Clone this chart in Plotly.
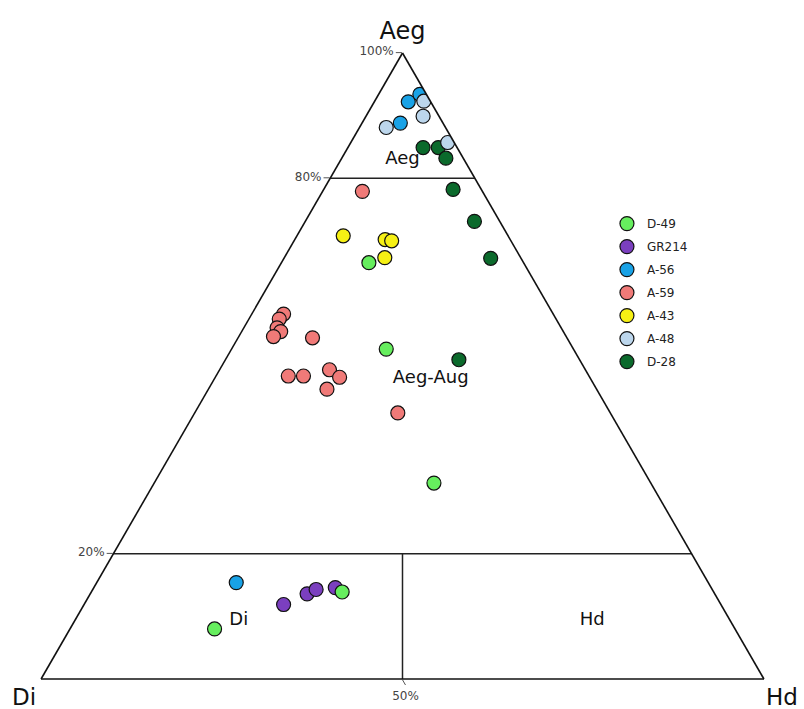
import plotly.graph_objects as go

# ---- data (percent: Aeg, Di, Hd) ----
series_names = ["D-49", "GR214", "A-56", "A-59", "A-43", "A-48", "D-28"]
series_colors = ["#66ee5e", "#7b3fbf", "#19a2e6", "#f07a78", "#f6f014", "#bcd6ec", "#0b6a2c"]

d49_aeg = [66.5, 52.7, 31.3, 13.9, 8.0]
d49_di = [21.4, 25.9, 30.0, 51.4, 72.0]
d49_hd = [12.1, 21.4, 38.7, 34.7, 20.0]

gr214_aeg = [11.9, 13.6, 14.3, 14.6]
gr214_di = [60.5, 56.4, 54.8, 52.0]
gr214_hd = [27.6, 30.0, 30.9, 33.4]

a56_aeg = [92.2, 93.4, 88.8, 15.4]
a56_di = [3.1, 0.9, 5.9, 65.3]
a56_hd = [4.7, 5.7, 5.3, 19.3]

a59_aeg = [77.9, 58.3, 57.5, 56.1, 55.5, 54.7, 54.5, 48.4, 48.4, 49.4, 48.2, 46.3, 42.5]
a59_di = [16.6, 37.3, 38.3, 39.3, 39.1, 40.5, 35.2, 41.6, 39.5, 35.4, 34.6, 37.3, 29.4]
a59_hd = [5.5, 4.4, 4.2, 4.6, 5.4, 4.8, 10.3, 10.0, 12.1, 15.2, 17.2, 16.4, 28.1]

a43_aeg = [70.8, 70.2, 70.0, 67.3]
a43_di = [22.8, 17.3, 16.5, 18.8]
a43_hd = [6.4, 12.5, 13.5, 13.9]

a48_aeg = [92.3, 89.9, 88.1, 85.7]
a48_di = [0.9, 2.2, 8.2, 0.9]
a48_hd = [6.8, 7.9, 3.7, 13.4]

d28_aeg = [84.9, 84.9, 83.2, 78.2, 73.1, 67.2, 51.0]
d28_di = [4.7, 2.6, 2.4, 3.9, 3.5, 4.2, 16.7]
d28_hd = [10.4, 12.5, 14.4, 17.9, 23.4, 28.6, 32.3]

series_aeg = [d49_aeg, gr214_aeg, a56_aeg, a59_aeg, a43_aeg, a48_aeg, d28_aeg]
series_di = [d49_di, gr214_di, a56_di, a59_di, a43_di, a48_di, d28_di]
series_hd = [d49_hd, gr214_hd, a56_hd, a59_hd, a43_hd, a48_hd, d28_hd]

# drawing order (index into series lists); legend keeps series order
draw_order = [1, 2, 3, 4, 6, 5, 0]

# field boundaries (Aeg, Di, Hd)
boundaries = [
    ([80, 80], [20, 0], [0, 20]),
    ([20, 20], [80, 0], [0, 80]),
    ([20, 0], [40, 50], [40, 50]),
]

# field labels
field_labels = ["Aeg", "Aeg-Aug", "Di", "Hd"]
field_aeg = [83.0, 48.0, 9.3, 9.3]
field_di = [8.5, 22.1, 68.0, 19.1]
field_hd = [8.5, 29.9, 22.7, 71.6]

FONT = "DejaVu Sans"

fig = go.Figure()

for a, b, c in boundaries:
    fig.add_trace(go.Scatterternary(
        a=a, b=b, c=c, mode="lines",
        line=dict(color="#222222", width=1.5),
        showlegend=False, hoverinfo="skip"))

fig.add_trace(go.Scatterternary(
    a=field_aeg, b=field_di, c=field_hd, mode="text",
    text=field_labels, textfont=dict(family=FONT, size=18, color="#111111"),
    showlegend=False, hoverinfo="skip"))

for i in draw_order:
    fig.add_trace(go.Scatterternary(
        a=series_aeg[i], b=series_di[i], c=series_hd[i], mode="markers",
        name=series_names[i], legendgroup=series_names[i], legendrank=i + 1,
        marker=dict(size=14, color=series_colors[i], line=dict(color="#111111", width=1.2))))

axis_common = dict(showgrid=False, linecolor="#111111", linewidth=1.6,
                   tickfont=dict(family=FONT, size=12, color="#444444"),
                   ticklen=6, tickcolor="#555555")

fig.update_layout(
    width=804, height=709,
    margin=dict(l=40, r=39, t=53, b=30),
    paper_bgcolor="white",
    font=dict(family=FONT),
    ternary=dict(
        sum=100,
        bgcolor="white",
        aaxis=dict(title=dict(text="Aeg", font=dict(family=FONT, size=24, color="#111111")),
                   ticks="outside",
                   tickvals=[20, 80, 100], ticktext=["20%", "80%", "100%"], **axis_common),
        baxis=dict(title=dict(text=""), ticks="outside",
                   tickvals=[50], ticktext=["50%"], **axis_common),
        caxis=dict(title=dict(text=""), ticks="",
                   tickvals=[], showticklabels=False, **axis_common),
    ),
    annotations=[
        dict(text="Di", xref="paper", yref="paper", x=-0.022, y=-0.029,
             showarrow=False, xanchor="center", yanchor="middle",
             font=dict(family=FONT, size=23, color="#111111")),
        dict(text="Hd", xref="paper", yref="paper", x=1.024, y=-0.029,
             showarrow=False, xanchor="center", yanchor="middle",
             font=dict(family=FONT, size=23, color="#111111")),
    ],
    legend=dict(x=0.782, y=0.7506, xanchor="left", yanchor="top",
                font=dict(family=FONT, size=12, color="#222222"),
                tracegroupgap=4, bgcolor="rgba(0,0,0,0)"),
)

fig.write_html("out.html")
